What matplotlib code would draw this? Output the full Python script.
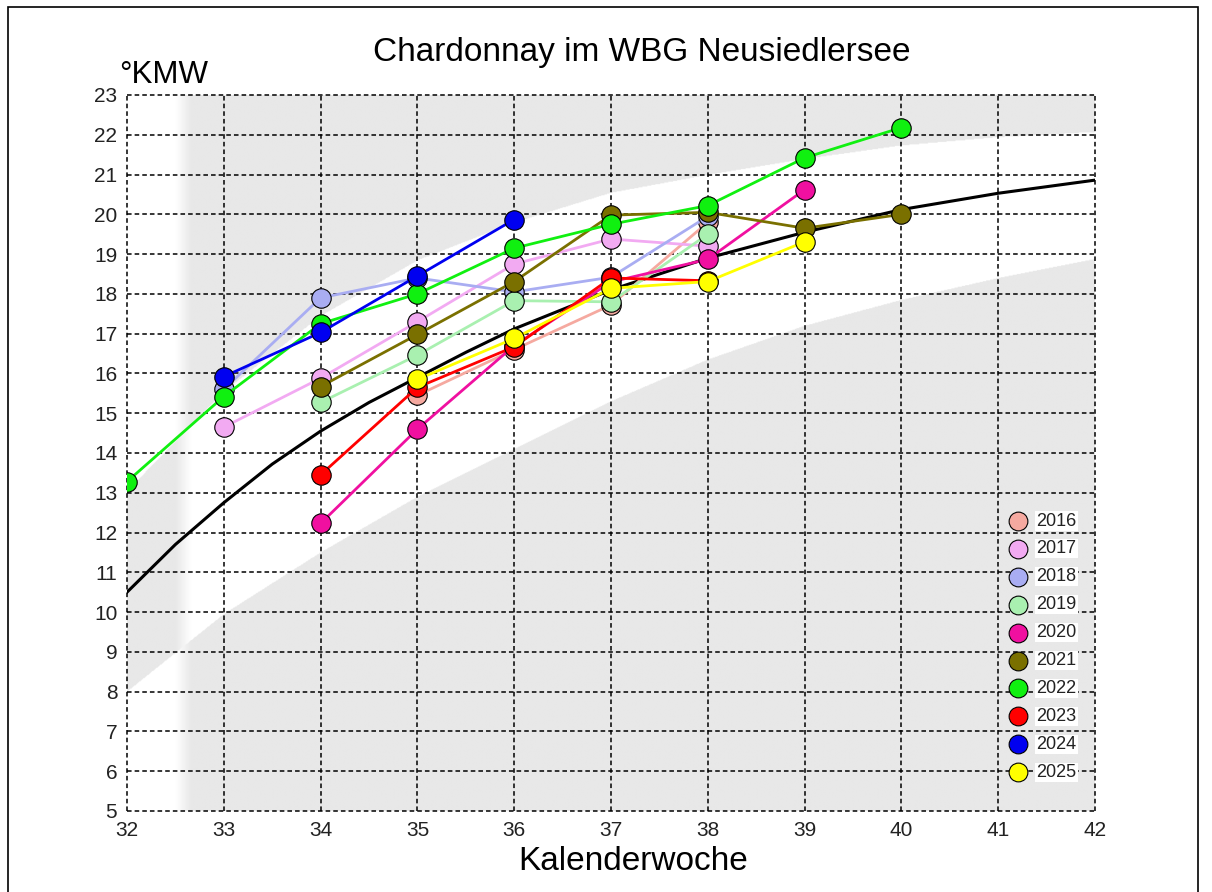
import numpy as np
import matplotlib
matplotlib.use('Agg')
import matplotlib.pyplot as plt
from matplotlib import font_manager
from matplotlib.patches import Rectangle

# Daten
weeks = [32, 33, 34, 35, 36, 37, 38, 39, 40, 41, 42]
ref_weeks = [32, 32.5, 33, 33.5, 34, 34.5, 35, 35.5, 36, 37, 38, 39, 40, 41, 42]
ref_curve = [10.5, 11.7, 12.75, 13.72, 14.55, 15.27, 15.9, 16.53, 17.12, 18.1, 18.9, 19.55, 20.12, 20.53, 20.86]
band_upper = [13.05, 15.55, 17.45, 18.85, 19.8, 20.55, 21.0, 21.4, 21.74, 21.95, 22.08]
band_lower = [8.0, 9.95, 11.5, 12.9, 14.1, 15.3, 16.35, 17.2, 17.85, 18.4, 18.88]

years = ['2016', '2017', '2018', '2019', '2020', '2021', '2022', '2023', '2024', '2025']
colors = ['#f5a9a0', '#f2aaf2', '#a9adf2', '#a9f0b0', '#f010a0',
          '#7a7000', '#10f010', '#ff0000', '#0000f0', '#ffff00']

w2016 = [35, 36, 37, 38]
v2016 = [15.45, 16.6, 17.72, 19.8]
w2017 = [33, 34, 35, 36, 37, 38]
v2017 = [14.65, 15.88, 17.3, 18.75, 19.38, 19.2]
w2018 = [33, 34, 35, 36, 37, 38]
v2018 = [15.6, 17.9, 18.4, 18.05, 18.42, 19.95]
w2019 = [34, 35, 36, 37, 38]
v2019 = [15.27, 16.46, 17.83, 17.8, 19.5]
w2020 = [34, 35, 36, 37, 38, 39]
v2020 = [12.23, 14.6, 16.7, 18.3, 18.87, 20.62]
w2021 = [34, 35, 36, 37, 38, 39, 40]
v2021 = [15.67, 16.98, 18.31, 19.98, 20.05, 19.65, 20.0]
w2022 = [32, 33, 34, 35, 36, 37, 38, 39, 40]
v2022 = [13.28, 15.42, 17.25, 18.0, 19.15, 19.75, 20.22, 21.42, 22.18]
w2023 = [34, 35, 36, 37, 38]
v2023 = [13.45, 15.65, 16.67, 18.4, 18.33]
w2024 = [33, 34, 35, 36]
v2024 = [15.92, 17.03, 18.45, 19.87]
w2025 = [35, 36, 37, 38, 39]
v2025 = [15.85, 16.88, 18.14, 18.31, 19.31]

series = [(w2016, v2016), (w2017, v2017), (w2018, v2018), (w2019, v2019), (w2020, v2020),
          (w2021, v2021), (w2022, v2022), (w2023, v2023), (w2024, v2024), (w2025, v2025)]

# Schrift
names = {f.name for f in font_manager.fontManager.ttflist}
if 'Liberation Sans Narrow' in names:
    narrow, tick_size, leg_size = 'Liberation Sans Narrow', 16, 14.5
else:
    narrow, tick_size, leg_size = 'Liberation Sans', 15, 13
plt.rcParams['font.family'] = ['Liberation Sans', 'DejaVu Sans']

fig = plt.figure(figsize=(12.12, 8.92), dpi=100)
ax = fig.add_axes([127 / 1212, 1 - 811 / 892, 968 / 1212, 716 / 892])

# Hintergrund: grau, weißes Band, links invertierter Streifen
gray = 232 / 255
xs = np.linspace(32, 42, 1200)
ys = np.linspace(5, 23, 900)
X, Y = np.meshgrid(xs, ys)
up = np.interp(X, weeks, band_upper)
lo = np.interp(X, weeks, band_lower)
inside = (Y >= lo) & (Y <= up)
base = np.where(inside, 1.0, gray)
inv = np.where(inside, gray, 1.0)
s = np.clip((32.66 - X) / 0.16, 0, 1)
img = s * inv + (1 - s) * base
ax.imshow(np.dstack([img, img, img]), extent=[32, 42, 5, 23], origin='lower',
          aspect='auto', interpolation='bilinear', zorder=0)

ax.set_xlim(32, 42)
ax.set_ylim(5, 23)
ax.set_xticks(range(32, 43))
ax.set_yticks(range(5, 24))
for sp in ax.spines.values():
    sp.set_visible(False)
ax.set_axisbelow(True)
ax.grid(True, color='black', linestyle=(0, (3, 2)), linewidth=1.1)
for gl in ax.get_xgridlines() + ax.get_ygridlines():
    gl.set_clip_on(False)
ax.tick_params(length=0, pad=7, labelsize=tick_size, labelcolor='#222222')
for lab in ax.get_xticklabels() + ax.get_yticklabels():
    lab.set_family(narrow)

# Referenzkurve
ax.plot(ref_weeks, ref_curve, color='black', linewidth=2.2, zorder=2)

# Jahrgänge
for (w, v), c in zip(series, colors):
    ax.plot(w, v, color=c, linewidth=2.0, marker='o', markersize=14,
            markerfacecolor=c, markeredgecolor='black', markeredgewidth=0.8, zorder=3)

# Legende
for i, (yr, c) in enumerate(zip(years, colors)):
    yy = (811 - (521 + i * 27.9)) / 716
    ax.plot([0.9205], [yy], 'o', transform=ax.transAxes, markersize=13.5,
            markerfacecolor=c, markeredgecolor='black', markeredgewidth=0.8,
            clip_on=False, zorder=5)
    ax.text(0.9395, yy, yr, transform=ax.transAxes, va='center', ha='left',
            family=narrow, fontsize=leg_size, color='#222222', zorder=5,
            bbox=dict(facecolor='white', edgecolor='none', pad=0.8))

# Texte
fig.text(642 / 1212, 1 - 53 / 892, 'Chardonnay im WBG Neusiedlersee',
         ha='center', va='center', fontsize=24)
fig.text(119 / 1212, 1 - 83 / 892, '°KMW', ha='left', va='baseline', fontsize=22.5)
fig.text(633 / 1212, 1 - 862 / 892, 'Kalenderwoche', ha='center', va='center', fontsize=24)

# Rahmen
fig.add_artist(Rectangle((8 / 1212, -0.05), 1190 / 1212, 1.05 - 7 / 892,
                         transform=fig.transFigure, fill=False,
                         edgecolor='black', linewidth=1.2))

fig.savefig('out.png', dpi=100)
